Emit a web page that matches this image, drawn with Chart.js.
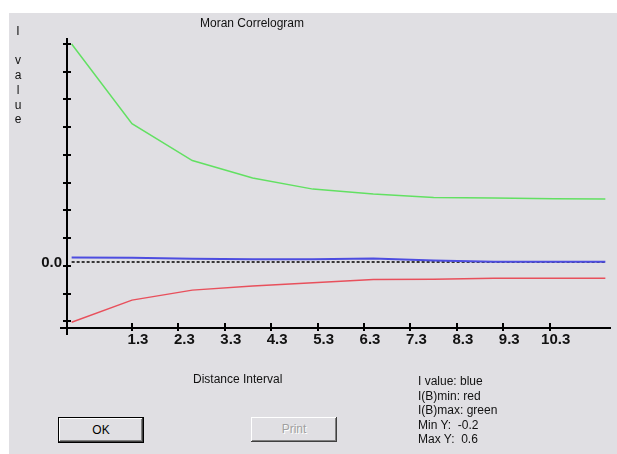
<!DOCTYPE html>
<html>
<head>
<meta charset="utf-8">
<script src="https://cdn.jsdelivr.net/npm/chart.js@4.4.1/dist/chart.umd.min.js"></script>
<style>
  html, body { margin: 0; padding: 0; background: #fff; }
  #wrap { position: relative; width: 617px; height: 454px; overflow: hidden; }
  #panel { position: absolute; left: 9px; top: 13px; width: 608px; height: 441px; background: #e0dfe3; }
  #chart { position: absolute; left: 0; top: 0; }
  .txt { position: absolute; font-family: "Liberation Sans", Arial, sans-serif; font-size: 12px; color: #111; white-space: pre; }
  .btn { position: absolute; box-sizing: border-box; font-family: "Liberation Sans", Arial, sans-serif; font-size: 12px; text-align: center; background: #e0dfe3; }
</style>
</head>
<body>
<div id="wrap">
  <div id="panel"></div>
  <canvas id="chart" width="617" height="454"></canvas>
  <div class="txt" style="left:200px; top:16px;">Moran Correlogram</div>
  <div class="txt" style="left:12px; top:24px; width:12px; text-align:center; line-height:14.7px;">I

v
a
l
u
e</div>
  <div class="txt" style="left:193px; top:372px;">Distance Interval</div>
  <div class="txt" style="left:418px; top:374px; line-height:14.5px;">I value: blue
I(B)min: red
I(B)max: green
Min Y:  -0.2
Max Y:  0.6</div>
  <div class="btn" style="left:58px; top:417px; width:86px; height:26px; line-height:24px; border:1px solid #000; box-shadow: inset -1px -1px #404040, inset 1px 1px #fff, inset -2px -2px #808080;">OK</div>
  <div class="btn" style="left:251px; top:417px; width:86px; height:25px; line-height:25px; color:#a0a0a0; text-shadow:1px 1px #fff; box-shadow: inset -1px -1px #404040, inset 1px 1px #fff, inset -2px -2px #808080;">Print</div>
</div>
<script>
// distance of each point and the three curves
const distances = [0, 1.3, 2.6, 3.9, 5.2, 6.5, 7.8, 9.1, 10.4, 11.5];
const iValue = [0.031, 0.030, 0.026, 0.024, 0.024, 0.027, 0.020, 0.015, 0.015, 0.015];
const iMin = [-0.203, -0.123, -0.087, -0.072, -0.060, -0.049, -0.048, -0.044, -0.044, -0.044];
const iMax = [0.800, 0.513, 0.380, 0.317, 0.277, 0.259, 0.247, 0.245, 0.242, 0.241];
// dotted reference line
const refX = [0, 11.5];
const refY = [0.0145, 0.0145];
// tick labels
const xTicks = [1.3, 2.3, 3.3, 4.3, 5.3, 6.3, 7.3, 8.3, 9.3, 10.3];
const yTicks = [-0.2, -0.1, 0, 0.1, 0.2, 0.3, 0.4, 0.5, 0.6, 0.7, 0.8];

function pts(xs, ys) {
  return xs.map((x, i) => ({ x: x, y: ys[i] }));
}

// ticks crossing the axes + the little overshoot at the corner
const crossTicks = {
  id: 'crossTicks',
  afterDraw(chart) {
    const { ctx, chartArea, scales } = chart;
    const x = scales.x, y = scales.y;
    ctx.save();
    ctx.strokeStyle = '#000';
    ctx.lineWidth = 2;
    ctx.beginPath();
    y.ticks.forEach(t => {
      const py = Math.round(y.getPixelForValue(t.value));
      ctx.moveTo(chartArea.left, py);
      ctx.lineTo(chartArea.left + 4, py);
    });
    x.ticks.forEach(t => {
      const px = Math.round(x.getPixelForValue(t.value));
      ctx.moveTo(px, chartArea.bottom);
      ctx.lineTo(px, chartArea.bottom - 5);
    });
    ctx.moveTo(chartArea.left - 7, chartArea.bottom);
    ctx.lineTo(chartArea.left, chartArea.bottom);
    ctx.moveTo(chartArea.left, chartArea.bottom);
    ctx.lineTo(chartArea.left, chartArea.bottom + 7);
    ctx.stroke();
    ctx.restore();
  }
};

const ctx = document.getElementById('chart').getContext('2d');
new Chart(ctx, {
  type: 'line',
  data: {
    datasets: [
      { data: pts(distances, iValue), borderColor: '#4d4de0', borderWidth: 2, order: 0 },
      { data: pts(refX, refY), borderColor: '#000', borderWidth: 1.5, borderDash: [3, 2], order: 1 },
      { data: pts(distances, iMin), borderColor: '#e8505c', borderWidth: 1.5, order: 2 },
      { data: pts(distances, iMax), borderColor: '#62e062', borderWidth: 1.5, order: 3 }
    ]
  },
  options: {
    responsive: false,
    animation: false,
    events: [],
    elements: { point: { radius: 0 }, line: { tension: 0 } },
    layout: { padding: { left: 10, top: 39, right: 7, bottom: 0 } },
    plugins: { legend: { display: false }, tooltip: { enabled: false } },
    scales: {
      x: {
        type: 'linear',
        min: -0.1,
        max: 11.6,
        afterBuildTicks: s => { s.ticks = xTicks.map(v => ({ value: v })); },
        afterFit: s => { s.height = 126; },
        border: { color: '#000', width: 2 },
        grid: { drawOnChartArea: false, color: '#000', lineWidth: 2, tickLength: 3 },
        ticks: {
          padding: 0,
          labelOffset: 6,
          color: '#111',
          font: { family: 'Liberation Sans', size: 15, weight: 'bold' },
          callback: v => v.toFixed(1)
        }
      },
      y: {
        type: 'linear',
        min: -0.2235,
        max: 0.818,
        afterBuildTicks: s => { s.ticks = yTicks.map(v => ({ value: v })); },
        afterFit: s => { s.width = 57; },
        border: { color: '#000', width: 2 },
        grid: { drawOnChartArea: false, color: '#000', lineWidth: 2, tickLength: 4 },
        ticks: {
          padding: 1,
          labelOffset: -3,
          color: '#111',
          font: { family: 'Liberation Sans', size: 15, weight: 'bold' },
          callback: v => (Math.abs(v) < 1e-9 ? '0.0' : '')
        }
      }
    }
  },
  plugins: [crossTicks]
});
</script>
</body>
</html>
